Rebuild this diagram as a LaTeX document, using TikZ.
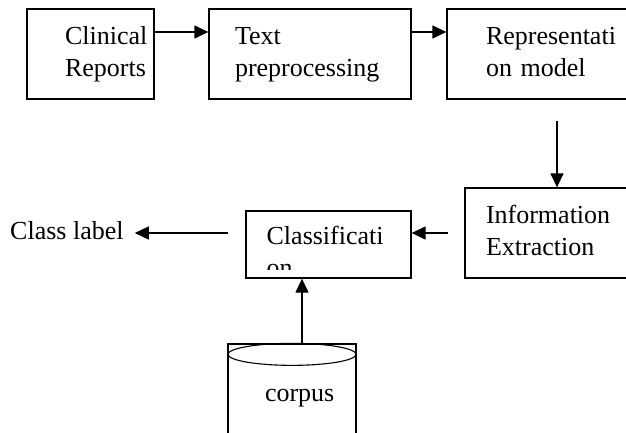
\documentclass[tikz,border=0pt]{standalone}
\usepackage{fontspec}
\setmainfont{Liberation Serif}
\usetikzlibrary{positioning,arrows.meta,calc}
\hyphenpenalty=10000
\exhyphenpenalty=10000

\begin{document}
\begin{tikzpicture}[
    x=1pt, y=-1pt,
    font={\fontsize{26}{31.5}\selectfont},
    base/.style={draw,line width=1.3pt,align=left,inner ysep=0pt,minimum height=90pt},
    txt/.style={inner sep=0pt,align=left,minimum width=0pt,minimum height=0pt},
    arr/.style={-{Triangle[length=14pt,width=13pt]},line width=1.3pt},
]
    \useasboundingbox (0,0) rectangle (626,433);

    \node[base,inner xsep=38pt,text width=51pt]  (clinical) at (90.5,54)  {\strut Clinical\\\strut Reports};
    \node[base,inner xsep=26pt,text width=150pt] (prep)     at (310,54)   {\strut Text\\\strut preprocessing};
    \node[base,inner xsep=39pt,text width=145pt] (repr)     at (558.5,54) {\strut Representati\\\strut on model};
    \node[base,inner xsep=21pt,text width=163pt] (extract)  at (567.5,233) {\strut Information\\\strut Extraction};

    \node[base,minimum width=165pt,minimum height=67pt,
          path picture={
            \clip ([yshift=9pt]path picture bounding box.south west) rectangle (path picture bounding box.north east);
            \node[txt,draw=none,anchor=north west,text width=125pt] at ([xshift=20pt,yshift=-11pt]path picture bounding box.north west) {\strut Classificati\\\strut on};
          }] (classify) at (328.5,244.5) {};

    \node[txt,anchor=base west] (label) at (10,239) {Class label};

    \node[base,inner xsep=37pt,text width=54pt,minimum height=101.5pt] (corpus) at (292,394.75) {\strut corpus};
    \draw[line width=1.1pt] ([yshift=-11pt]corpus.north) ellipse [x radius=64pt,y radius=11pt];

    \coordinate (down) at (557,121);
    \coordinate (left) at (448,233);
    \coordinate (out)  at (228,233);
    \coordinate (feed) at ([xshift=10pt]corpus.north);

    \draw[arr] ([yshift=22pt]clinical.east) -- ([yshift=22pt]prep.west);
    \draw[arr] ([yshift=22pt]prep.east) -- ([yshift=22pt]repr.west);
    \draw[arr] (down) -- (down |- extract.north);
    \draw[arr] (left) -- (left -| classify.east);
    \draw[arr,shorten >=11pt] (out) -- (out -| label.east);
    \draw[arr] (feed) -- (feed |- classify.south);

\end{tikzpicture}
\end{document}
